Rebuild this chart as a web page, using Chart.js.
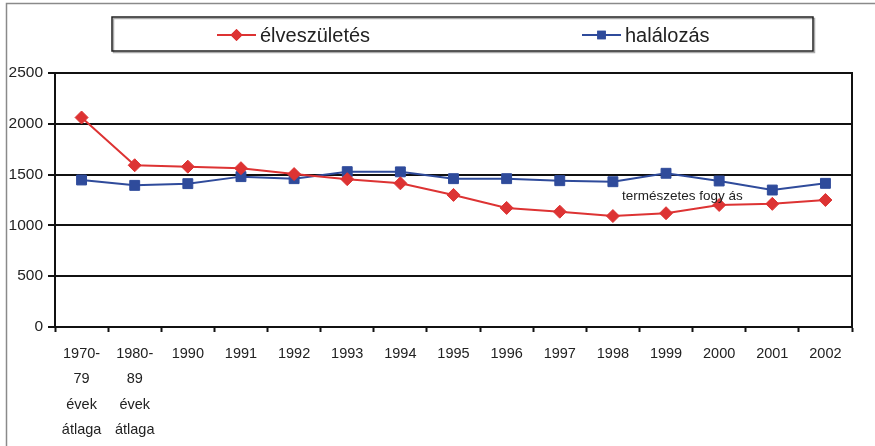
<!DOCTYPE html>
<html>
<head>
<meta charset="utf-8">
<script src="https://cdn.jsdelivr.net/npm/chart.js@4/dist/chart.umd.min.js"></script>
<style>
  html, body { margin: 0; padding: 0; background: #fff; }
  #wrap { width: 875px; height: 446px; position: relative; }
</style>
</head>
<body>
<div id="wrap"><canvas id="chart"></canvas></div>
<script>
// Adatok
const kategoriak = [
  ['1970-', '79', 'évek', 'átlaga'],
  ['1980-', '89', 'évek', 'átlaga'],
  '1990', '1991', '1992', '1993', '1994', '1995',
  '1996', '1997', '1998', '1999', '2000', '2001', '2002'
];
const elveszuletes = [2062, 1592, 1578, 1563, 1505, 1455, 1414, 1300, 1172, 1135, 1092, 1120, 1201, 1212, 1250];
const halalozas = [1447, 1394, 1411, 1480, 1460, 1529, 1527, 1460, 1460, 1440, 1430, 1513, 1437, 1348, 1414];
const yTicks = [0, 500, 1000, 1500, 2000, 2500];
const felirat = 'természetes fogy ás';

const PIROS = '#dd3333';
const KEK = '#2f4b9b';
const FONT = "'Liberation Sans', Arial, sans-serif";

// Külső keret, rajzterület kerete, jelmagyarázat, felirat
const keretPlugin = {
  id: 'keret',
  beforeDraw: function(chart) {
    const c = chart.ctx;
    c.save();
    c.strokeStyle = '#8a8a8a';
    c.lineWidth = 1.5;
    c.beginPath();
    c.moveTo(6.5, 450);
    c.lineTo(6.5, 3.5);
    c.lineTo(880, 3.5);
    c.stroke();
    c.restore();
  },
  afterDatasetsDraw: function(chart) {
    const c = chart.ctx;
    const a = chart.chartArea;
    c.save();
    c.strokeStyle = '#111';
    c.lineWidth = 2;
    c.strokeRect(a.left, a.top, a.right - a.left, a.bottom - a.top);

    // felirat
    const xs = chart.scales.x, ys = chart.scales.y;
    c.fillStyle = '#222';
    c.font = '13.5px ' + FONT;
    c.textAlign = 'left';
    c.textBaseline = 'middle';
    c.fillText(felirat, xs.getPixelForValue(10) + 9, ys.getPixelForValue(1290));
    c.restore();
  },
  afterDraw: function(chart) {
    const c = chart.ctx;
    c.save();
    // jelmagyarázat doboza
    c.strokeStyle = '#aaa';
    c.lineWidth = 1.5;
    c.strokeRect(113.5, 18.5, 701, 34);
    c.strokeStyle = '#222';
    c.strokeRect(112, 17, 701, 34);

    const tetelek = [
      { x: 217, stilus: 'rectRot', r: 6 },
      { x: 582, stilus: 'rect', r: 6 }
    ];
    tetelek.forEach(function(t, i) {
      const ds = chart.data.datasets[i];
      const y = 35;
      c.strokeStyle = ds.borderColor;
      c.lineWidth = 2;
      c.beginPath();
      c.moveTo(t.x, y);
      c.lineTo(t.x + 39, y);
      c.stroke();
      c.fillStyle = ds.borderColor;
      Chart.helpers.drawPoint(c, { pointStyle: t.stilus, radius: t.r, borderWidth: 0 }, t.x + 19.5, y);
      c.fill();
      c.fillStyle = '#222';
      c.font = '20px ' + FONT;
      c.textAlign = 'left';
      c.textBaseline = 'middle';
      c.fillText(ds.label, t.x + 43, y + 1);
    });
    c.restore();
  }
};

new Chart(document.getElementById('chart'), {
  type: 'line',
  data: {
    labels: kategoriak,
    datasets: [
      {
        label: 'élveszületés',
        data: elveszuletes,
        borderColor: PIROS,
        backgroundColor: PIROS,
        borderWidth: 2,
        pointStyle: 'rectRot',
        pointRadius: 6.5,
        pointBorderWidth: 1,
        tension: 0
      },
      {
        label: 'halálozás',
        data: halalozas,
        borderColor: KEK,
        backgroundColor: KEK,
        borderWidth: 2,
        pointStyle: 'rect',
        pointRadius: 7,
        pointBorderWidth: 1,
        tension: 0
      }
    ]
  },
  options: {
    responsive: true,
    maintainAspectRatio: false,
    animation: false,
    layout: { padding: { left: 6, right: 23, top: 73, bottom: 0 } },
    plugins: {
      legend: { display: false },
      tooltip: { enabled: false }
    },
    scales: {
      x: {
        offset: true,
        grid: {
          offset: true,
          drawOnChartArea: false,
          drawTicks: true,
          tickLength: 5,
          tickColor: '#111',
          tickWidth: 2
        },
        border: { display: true, color: '#111', width: 2 },
        ticks: {
          color: '#222',
          padding: 9,
          autoSkip: false,
          maxRotation: 0,
          font: { family: FONT, size: 14.5, lineHeight: 1.76 }
        },
        afterFit: function(s) { s.height = 119; }
      },
      y: {
        min: 0,
        max: 2500,
        afterBuildTicks: function(s) {
          s.ticks = yTicks.map(function(v) { return { value: v }; });
        },
        grid: {
          color: '#111',
          lineWidth: 2,
          drawTicks: true,
          tickLength: 7,
          tickColor: '#111',
          tickWidth: 2
        },
        border: { display: true, color: '#111', width: 2 },
        ticks: {
          color: '#222',
          padding: 5,
          font: { family: FONT, size: 15.5 },
          callback: function(v) { return String(v); }
        },
        afterFit: function(s) { s.width = 49; }
      }
    }
  },
  plugins: [keretPlugin]
});
</script>
</body>
</html>
